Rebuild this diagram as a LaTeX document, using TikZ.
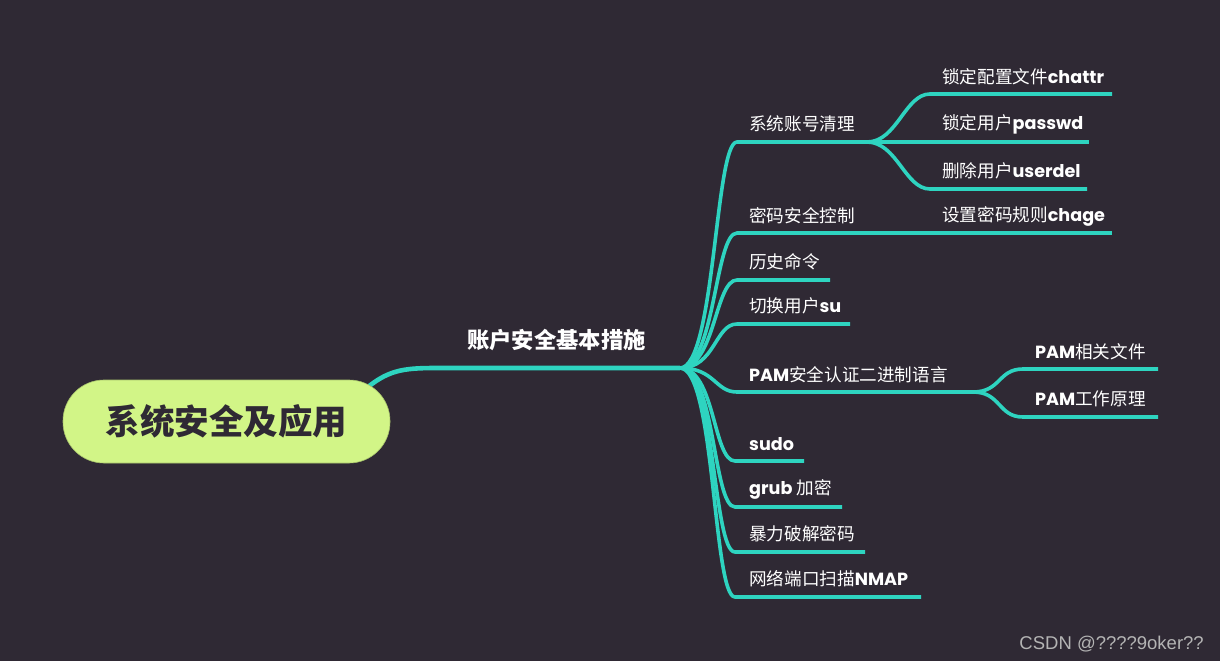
\documentclass[tikz,border=0pt]{standalone}
\usepackage{fontspec}
\setmainfont{Noto Sans CJK SC}
\newfontfamily\lat{Poppins}
\newfontfamily\wm{Liberation Sans}
\definecolor{bg}{HTML}{2F2934}
\definecolor{brteal}{HTML}{2ED4C0}
\definecolor{rootlime}{HTML}{D2F587}
\definecolor{wmgray}{HTML}{B4B4B4}
\newcommand\Lt[1]{{\lat\bfseries #1}}
\begin{document}
\begin{tikzpicture}[x=1pt,y=-1pt,
  lbl/.style={anchor=west, text=white, inner sep=0pt, font=\fontsize{17.6}{20}\selectfont},
  br/.style={draw=brteal, line width=3.6pt},
  mainbr/.style={draw=brteal, line width=4.6pt},
  rootbox/.style={fill=rootlime, draw=rootlime!80!black, line width=0.6pt, rounded corners=41pt, minimum width=327pt, minimum height=83pt, inner sep=0pt, text=bg, font=\bfseries\fontsize{34.5}{38}\selectfont},
  mainlbl/.style={text=white, inner sep=0pt, font=\bfseries\fontsize{22.3}{24}\selectfont},
  wmark/.style={anchor=base east, text=wmgray, inner sep=0pt, font=\wm\fontsize{18.5}{20}\selectfont}
]
\fill[bg] (0,0) rectangle (1220,661);
\useasboundingbox (0,0) rectangle (1220,661);

% coordinates
\coordinate (r1) at (362,392);
\coordinate (m1) at (437,368);
\coordinate (hub) at (680,368);
\coordinate (c1a) at (737,142); \coordinate (c1b) at (867,142);
\coordinate (c2a) at (737,233); \coordinate (c2b) at (865,233);
\coordinate (c3a) at (737,280); \coordinate (c3b) at (830,280);
\coordinate (c4a) at (737,324); \coordinate (c4b) at (850,324);
\coordinate (c5a) at (737,392); \coordinate (c5b) at (973,392);
\coordinate (c6a) at (735,461); \coordinate (c6b) at (804,461);
\coordinate (c7a) at (735,507); \coordinate (c7b) at (842,507);
\coordinate (c8a) at (735,552); \coordinate (c8b) at (865,552);
\coordinate (c9a) at (735,597); \coordinate (c9b) at (921,597);
\coordinate (s1a) at (930,94);  \coordinate (s1b) at (1112,94);
\coordinate (s2a) at (930,142); \coordinate (s2b) at (1089,142);
\coordinate (s3a) at (930,189); \coordinate (s3b) at (1087,189);
\coordinate (s4a) at (930,233); \coordinate (s4b) at (1112,233);
\coordinate (p1a) at (1023,369); \coordinate (p1b) at (1158,369);
\coordinate (p2a) at (1023,417); \coordinate (p2b) at (1158,417);

% connectors
\draw[mainbr] (r1) .. controls +(25,-22) and +(-35,0) .. (m1) -- (hub);
\foreach \c in {c1,c2,c3,c4,c5,c6,c7,c8,c9}
  \draw[br] (hub) .. controls +(35,0) and +(-22,0) .. (\c a) -- (\c b);
\foreach \s in {s1,s2,s3}
  \draw[br] (c1b) .. controls +(30,0) and +(-25,0) .. (\s a) -- (\s b);
\draw[br] (c2b) -- (s4a) -- (s4b);
\foreach \p in {p1,p2}
  \draw[br] (c5b) .. controls +(28,0) and +(-25,0) .. (\p a) -- (\p b);

% nodes
\node[rootbox] (root) at (226.5,421.5) {系统安全及应用};
\node[mainlbl] (main) at (556.5,340.5) {账户安全基本措施};

\node[lbl] (c1) at (749,124) {系统账号清理};
\node[lbl] (c2) at (749,216) {密码安全控制};
\node[lbl] (c3) at (749,262) {历史命令};
\node[lbl] (c4) at (749,306) {切换用户\Lt{su}};
\node[lbl] (c5) at (749,375) {\Lt{PAM}安全认证二进制语言};
\node[lbl] (c6) at (749,444) {\Lt{sudo}};
\node[lbl] (c7) at (749,489) {\Lt{grub} 加密};
\node[lbl] (c8) at (749,534) {暴力破解密码};
\node[lbl] (c9) at (749,579) {网络端口扫描\Lt{NMAP}};

\node[lbl] (s1) at (942,77) {锁定配置文件\Lt{chattr}};
\node[lbl] (s2) at (942,124) {锁定用户\Lt{passwd}};
\node[lbl] (s3) at (942,171) {删除用户\Lt{userdel}};
\node[lbl] (s4) at (942,216) {设置密码规则\Lt{chage}};
\node[lbl] (p1) at (1035,352) {\Lt{PAM}相关文件};
\node[lbl] (p2) at (1035,399) {\Lt{PAM}工作原理};

\node[wmark] (wm) at (1204,649) {CSDN @????9oker??};
\end{tikzpicture}
\end{document}
